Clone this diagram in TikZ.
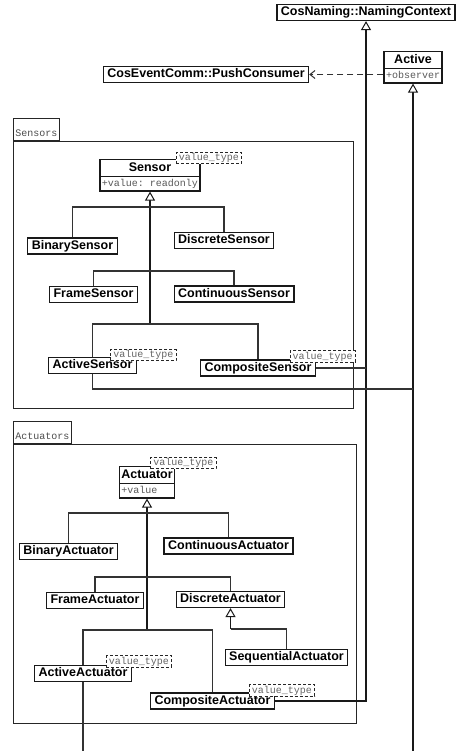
\documentclass[tikz,border=0pt]{standalone}
\usepackage{fontspec}
\setmainfont{Liberation Sans}
\setmonofont{Liberation Mono}
\usetikzlibrary{shapes,arrows.meta,positioning,calc}

\newcommand{\cstrut}{\rule[-3.5pt]{0pt}{13pt}}
\newcommand{\astrut}{\rule[-2.5pt]{0pt}{10pt}}
\newcommand{\attrtext}[1]{{\fontsize{10}{11}\ttfamily\mdseries\color{black!65}\astrut#1}}

\begin{document}
\begin{tikzpicture}[x=1pt, y=-1pt,
    cls/.style={draw=black!90, line width=1.2pt, fill=white, font=\fontsize{12.5}{14}\bfseries, inner xsep=4pt, inner ysep=1.5pt},
    clsattr/.style={cls, rectangle split, rectangle split parts=2, rectangle split part align={center,left}, inner xsep=2pt},
    tagbox/.style={draw=black!85, dash pattern=on 3pt off 2pt, line width=1pt, fill=white, font=\fontsize{10}{11}\ttfamily, text=black!60, inner xsep=2.5pt, inner ysep=1pt},
    pkgtab/.style={draw=black!85, line width=0.9pt, font=\fontsize{10}{11}\ttfamily, text=black!70, inner xsep=2pt, inner ysep=1pt, text height=17pt, text depth=3pt, anchor=south west},
    pkg/.style={draw=black!85, line width=0.9pt},
    branch/.style={draw=black!80, line width=1.1pt},
    trunk/.style={draw=black!90, line width=1.4pt, -{Triangle[width=10pt, length=9pt, line width=1pt, fill=white]}},
    dep/.style={draw=black!80, line width=1pt, dash pattern=on 6pt off 4pt, -{Straight Barb[length=5pt, width=8pt]}}
]
    \useasboundingbox (0,0) rectangle (456,751);

    % Packages
    \draw[pkg] (13,141) rectangle (353,408);
    \node[pkgtab] (stab) at (13,141) {Sensors};
    \draw[pkg] (13,444) rectangle (356,723);
    \node[pkgtab] (atab) at (13,444) {Actuators};

    % Top level classes
    \node[cls] (cos) at (366,12.5) {\cstrut CosNaming::NamingContext};
    \node[clsattr, anchor=north] (active) at (413,51) {\cstrut Active\nodepart{two}\attrtext{+observer}};
    \node[cls] (pushc) at (206,74.5) {\cstrut CosEventComm::PushConsumer};

    % Sensors
    \node[clsattr, anchor=north] (sensor) at (150,159) {\cstrut Sensor\nodepart{two}\attrtext{+value: readonly}};
    \node[cls] (bsensor) at (72.5,246) {\cstrut BinarySensor};
    \node[cls] (dsensor) at (224,240.5) {\cstrut DiscreteSensor};
    \node[cls] (fsensor) at (93.5,294.5) {\cstrut FrameSensor};
    \node[cls] (csensor) at (234,294) {\cstrut ContinuousSensor};
    \node[cls] (asensor) at (92.5,365.5) {\cstrut ActiveSensor};
    \node[cls] (psensor) at (258,368) {\cstrut CompositeSensor};

    % Actuators
    \node[clsattr, anchor=north] (actuator) at (147,466) {\cstrut Actuator\nodepart{two}\attrtext{+value}};
    \node[cls] (bact) at (68.5,551.5) {\cstrut BinaryActuator};
    \node[cls] (cact) at (228.5,546) {\cstrut ContinuousActuator};
    \node[cls] (fact) at (95,600.5) {\cstrut FrameActuator};
    \node[cls] (dact) at (230.5,599.5) {\cstrut DiscreteActuator};
    \node[cls] (sact) at (286.5,657.5) {\cstrut SequentialActuator};
    \node[cls] (aact) at (83,673.5) {\cstrut ActiveActuator};
    \node[cls] (pact) at (212.5,701) {\cstrut CompositeActuator};

    % Stereotype tags
    \node[tagbox] (tsensor) at (209,158) {value\_type};
    \node[tagbox] (tasensor) at (143.5,355) {value\_type};
    \node[tagbox] (tpsensor) at (322.5,356.5) {value\_type};
    \node[tagbox] (tactuator) at (183.5,463) {value\_type};
    \node[tagbox] (taact) at (139,661.5) {value\_type};
    \node[tagbox] (tpact) at (282,690.5) {value\_type};

    % Junctions
    \coordinate (sj1) at (150,207);
    \coordinate (sj2) at (150,271);
    \coordinate (sj3) at (150,324);
    \coordinate (aj1) at (147,513);
    \coordinate (aj2) at (147,577);
    \coordinate (aj3) at (147,630);
    \coordinate (dj) at (230.5,629);
    \coordinate (ajoin) at (413,389);
    \coordinate (aout) at (413,751);

    % Generalizations
    \draw[trunk] (sj3) -- (sensor.south);
    \draw[trunk] (aj3) -- (actuator.south);
    \foreach \c/\j in {bsensor/sj1, dsensor/sj1, fsensor/sj2, csensor/sj2, asensor/sj3, psensor/sj3,
                       bact/aj1, cact/aj1, fact/aj2, dact/aj2, aact/aj3, pact/aj3}
        \draw[branch] (\c.north) |- (\j);
    \draw[branch] (sact.north) |- (dj);
    \draw[trunk] (dj) -- (dact.south);

    % Links to top level classes
    \draw[trunk] (pact.east) -| (cos.south);
    \draw[branch] (psensor.east) -- (psensor.east -| cos.south);
    \draw[trunk] (aout) -- (active.south);
    \draw[branch] (asensor.south) |- (ajoin);
    \draw[branch] (aact.south) -- (aact.south |- aout);
    \draw[dep] (active.west |- pushc.east) -- (pushc.east);
\end{tikzpicture}
\end{document}
